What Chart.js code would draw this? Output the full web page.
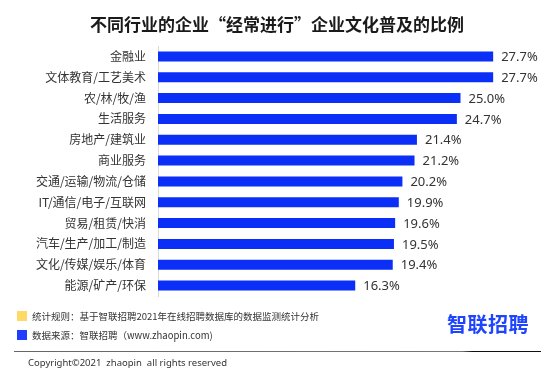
<!DOCTYPE html>
<html>
<head>
<meta charset="utf-8">
<script src="https://cdn.jsdelivr.net/npm/chart.js@4"></script>
<style>
  html, body { margin: 0; padding: 0; background: #fff; }
  #wrap { position: relative; width: 554px; height: 382px; overflow: hidden; font-family: "Noto Sans CJK SC", "Noto Sans", sans-serif; }
  #c { position: absolute; left: 0; top: 0; }
  .t { position: absolute; white-space: nowrap; color: #333; }
  #title { left: 0; width: 554px; top: 12px; text-align: center; font-size: 17px; font-weight: bold; color: #1a1a1a; line-height: 24px; }
  .sq { position: absolute; width: 10px; height: 10px; }
  #line { position: absolute; left: 14px; top: 351px; width: 527px; height: 1px; background: linear-gradient(to right, #666 0%, #777 85%, #111 87%, #111 100%); }
  #logo { position: absolute; left: 447px; top: 311px; font-size: 20px; font-weight: bold; color: #1f44ff; letter-spacing: 0.5px; line-height: 26px; }
</style>
</head>
<body>
<div id="wrap">
  <canvas id="c" width="554" height="382"></canvas>
  <div id="title" class="t">不同行业的企业“经常进行”企业文化普及的比例</div>
  <div class="sq" style="left:17px;top:311px;background:#ffd966;"></div>
  <div class="t" style="left:32px;top:308px;font-size:9.5px;line-height:16px;">统计规则：基于智联招聘2021年在线招聘数据库的数据监测统计分析</div>
  <div class="sq" style="left:17px;top:330px;background:#1f3cff;"></div>
  <div class="t" style="left:32px;top:327px;font-size:9.5px;line-height:16px;">数据来源：智联招聘（www.zhaopin.com)</div>
  <div id="logo">智联招聘</div>
  <div id="line"></div>
  <div class="t" style="left:28px;top:356px;font-size:9.5px;line-height:14px;font-family:'Noto Sans','DejaVu Sans',sans-serif;">Copyright©2021&nbsp;&nbsp;zhaopin&nbsp;&nbsp;all&nbsp;rights&nbsp;reserved</div>
</div>
<script>
const categories = ["金融业","文体教育/工艺美术","农/林/牧/渔","生活服务","房地产/建筑业","商业服务","交通/运输/物流/仓储","IT/通信/电子/互联网","贸易/租赁/快消","汽车/生产/加工/制造","文化/传媒/娱乐/体育","能源/矿产/环保"];
const values = [27.7,27.7,25.0,24.7,21.4,21.2,20.2,19.9,19.6,19.5,19.4,16.3];
const valueLabels = ["27.7%","27.7%","25.0%","24.7%","21.4%","21.2%","20.2%","19.9%","19.6%","19.5%","19.4%","16.3%"];

const valueLabelPlugin = {
  id: 'valueLabels',
  afterDatasetsDraw(chart) {
    const ctx = chart.ctx;
    const meta = chart.getDatasetMeta(0);
    ctx.save();
    ctx.font = '13px "Noto Sans", "Open Sans", sans-serif';
    ctx.fillStyle = '#333';
    ctx.textAlign = 'left';
    ctx.textBaseline = 'middle';
    meta.data.forEach((bar, i) => {
      ctx.fillText(valueLabels[i], bar.x + 8, bar.y + 1);
    });
    ctx.restore();
  }
};

new Chart(document.getElementById('c'), {
  type: 'bar',
  data: {
    labels: categories,
    datasets: [{
      data: values,
      backgroundColor: '#0b2ff7',
      borderWidth: 0,
      categoryPercentage: 1,
      barPercentage: 0.48
    }]
  },
  options: {
    indexAxis: 'y',
    responsive: false,
    animation: false,
    devicePixelRatio: 1,
    layout: { padding: { top: 46, bottom: 86, right: 33, left: 0 } },
    plugins: { legend: { display: false }, tooltip: { enabled: false } },
    scales: {
      x: { display: false, min: 0, max: 30 },
      y: {
        afterFit(axis) { axis.width = 158; },
        grid: { display: false, drawTicks: false },
        border: { display: true, color: '#d9d9d9', width: 1 },
        ticks: {
          padding: 12,
          color: '#333',
          font: { size: 12, family: '"Noto Sans CJK SC", sans-serif' }
        }
      }
    }
  },
  plugins: [valueLabelPlugin]
});
</script>
</body>
</html>
